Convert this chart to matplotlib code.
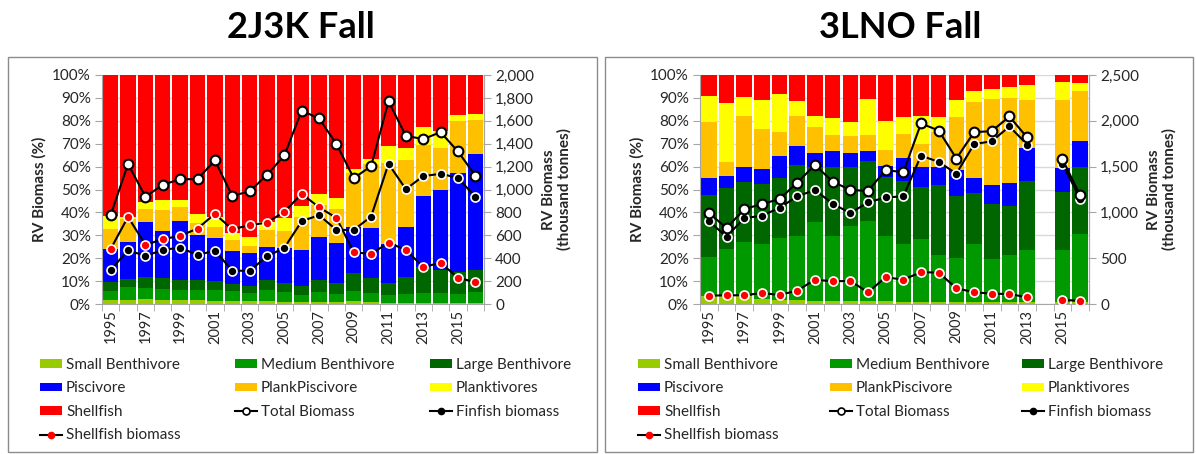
import numpy as np
import matplotlib
matplotlib.use("Agg")
import matplotlib.pyplot as plt
from matplotlib.patches import Rectangle, Patch
from matplotlib.lines import Line2D
from matplotlib.ticker import FuncFormatter, MultipleLocator

plt.rcParams['font.family'] = ['Lato', 'DejaVu Sans']

years = list(range(1995, 2017))
groups = ["Small Benthivore", "Medium Benthivore", "Large Benthivore",
          "Piscivore", "PlankPiscivore", "Planktivores", "Shellfish"]
colors = ["#99cc00", "#009900", "#006600", "#0000ff", "#ffc000", "#ffff00", "#ff0000"]

# ---- 2J3K Fall: composition (%) ----
j_small = [1.9, 1.9, 2.2, 1.8, 1.6, 1.6, 1.5, 1.3, 1.2, 1.2, 1.0, 0.9, 0.8, 0.8, 1.2, 0.8, 0.6, 0.6, 0.6, 0.6, 0.5, 0.6]
j_medium = [3.7, 5.5, 4.8, 4.8, 4.4, 4.7, 4.5, 4.2, 3.8, 4.8, 4.3, 3.1, 4.3, 3.6, 4.5, 4.1, 3.2, 3.8, 4.2, 4.2, 3.7, 4.5]
j_large = [3.9, 3.4, 4.8, 4.6, 4.3, 4.1, 4.0, 3.1, 2.9, 4.3, 4.0, 3.8, 5.5, 4.8, 7.7, 6.5, 5.5, 7.3, 11.2, 9.9, 9.7, 9.6]
j_pisc = [14.5, 16.2, 23.8, 20.6, 26.1, 19.6, 19.0, 14.4, 14.5, 14.8, 15.2, 15.6, 18.8, 17.3, 20.4, 21.8, 16.9, 22.1, 31.2, 35.3, 43.1, 50.9]
j_plankpisc = [8.7, 10.0, 6.1, 9.2, 5.9, 5.2, 4.7, 4.8, 3.1, 7.3, 7.3, 14.6, 14.0, 15.0, 23.5, 27.8, 35.2, 29.2, 22.4, 18.1, 22.8, 14.6]
j_plankt = [5.7, 1.2, 2.9, 4.2, 3.0, 4.0, 4.3, 3.0, 3.7, 3.6, 5.9, 4.7, 4.6, 4.9, 1.6, 2.3, 7.8, 5.0, 7.8, 7.5, 2.9, 2.9]
j_shell = [61.6, 61.8, 55.4, 54.8, 54.7, 60.8, 62.0, 69.2, 70.8, 64.0, 62.3, 57.3, 52.0, 53.6, 41.1, 36.7, 30.8, 32.0, 22.6, 24.4, 17.3, 16.9]
# ---- 2J3K Fall: biomass (thousand tonnes) ----
j_total = [776, 1224, 936, 1041, 1090, 1090, 1254, 945, 983, 1128, 1297, 1688, 1621, 1397, 1099, 1204, 1770, 1469, 1440, 1501, 1332, 1122]
j_finfish = [297, 469, 420, 472, 493, 428, 466, 292, 289, 417, 490, 723, 776, 647, 647, 764, 1224, 1003, 1117, 1137, 1102, 936]
j_shellbio = [481, 761, 516, 566, 595, 659, 787, 653, 688, 711, 805, 962, 845, 752, 452, 437, 536, 472, 324, 359, 230, 190]

nan = np.nan
# ---- 3LNO Fall: composition (%) ----
l_small = [3.4, 3.5, 3.4, 2.2, 1.6, 1.6, 1.5, 1.4, 1.4, 1.5, 1.2, 1.0, 1.0, 1.0, 1.0, 1.0, 1.0, 1.0, 1.0, nan, 0.8, 0.8]
l_medium = [17.2, 20.7, 23.8, 23.8, 27.3, 28.2, 34.4, 28.5, 32.6, 34.7, 28.6, 25.4, 27.6, 20.6, 19.3, 25.4, 18.7, 20.3, 22.4, nan, 22.6, 29.6]
l_large = [27.1, 26.6, 25.9, 26.3, 26.0, 31.1, 24.1, 30.1, 26.0, 26.4, 25.5, 27.4, 22.5, 30.4, 26.9, 22.2, 23.8, 21.7, 30.5, nan, 25.7, 29.6]
l_pisc = [7.2, 5.3, 6.9, 6.7, 9.6, 8.3, 5.8, 6.9, 5.8, 4.3, 4.8, 9.8, 8.6, 8.0, 11.3, 6.6, 8.5, 9.7, 14.4, nan, 10.2, 11.2]
l_plankpisc = [24.5, 6.1, 22.2, 17.5, 10.5, 12.7, 11.7, 7.0, 7.6, 6.7, 7.1, 10.6, 10.2, 15.3, 23.0, 33.0, 37.6, 37.2, 20.9, nan, 30.0, 21.8]
l_plankt = [11.4, 25.7, 8.3, 12.5, 16.7, 6.9, 4.8, 7.4, 6.0, 15.9, 12.5, 7.3, 12.3, 6.2, 7.7, 4.9, 4.4, 4.7, 6.6, nan, 7.6, 3.6]
l_shell = [9.2, 12.1, 9.5, 11.0, 8.3, 11.2, 17.7, 18.7, 20.6, 10.5, 20.3, 18.5, 17.8, 18.5, 10.8, 6.9, 6.0, 5.4, 4.2, nan, 3.1, 3.4]
# ---- 3LNO Fall: biomass (thousand tonnes) ----
l_total = [996, 828, 1036, 1091, 1146, 1325, 1518, 1336, 1245, 1234, 1463, 1438, 1971, 1894, 1588, 1876, 1887, 2047, 1818, nan, 1580, 1186]
l_finfish = [905, 734, 938, 963, 1051, 1175, 1245, 1095, 993, 1109, 1164, 1175, 1620, 1551, 1423, 1745, 1777, 1938, 1741, nan, 1533, 1146]
l_shellbio = [91, 95, 95, 120, 99, 146, 266, 248, 252, 128, 292, 266, 347, 343, 172, 128, 113, 109, 73, nan, 44, 36]

W, H = 1196, 454
fig = plt.figure(figsize=(W / 100, H / 100), dpi=100)


def fx(px):
    return px / W


def fy(py):
    return 1 - py / H


TXT = "#262626"
GRID = "#d9d9d9"
SPINE = "#a6a6a6"


def panel(x0, x1, comp, totals, finfish, shellbio, rmax, rstep, title, box, title_x, leg_cols):
    ax = fig.add_axes([fx(x0), fy(304), fx(x1 - x0), fy(75) - fy(304)])
    x = np.arange(len(years))
    bottom = np.zeros(len(years))
    for vals, c in zip(comp, colors):
        v = np.nan_to_num(np.array(vals, dtype=float))
        ax.bar(x, v, width=0.88, bottom=bottom, color=c, edgecolor='none', zorder=2)
        bottom += v
    ax.set_xlim(-0.5, len(years) - 0.5)
    ax.set_ylim(0, 100)
    ax.yaxis.set_major_locator(MultipleLocator(10))
    ax.yaxis.set_major_formatter(FuncFormatter(lambda v, p: f"{v:.0f}%"))
    ax.grid(axis='y', color=GRID, linewidth=1, zorder=0)
    ax.set_axisbelow(True)
    ax.set_xticks(x[::2])
    ax.set_xticklabels([str(y) for y in years[::2]], rotation=90)
    ax.set_xticks(np.arange(-0.5, len(years), 1.0), minor=True)
    ax.tick_params(axis='x', which='major', length=0, pad=4, labelsize=10.5, colors=TXT)
    ax.tick_params(axis='x', which='minor', length=5, color=SPINE)
    ax.tick_params(axis='y', length=5, color=SPINE, labelsize=11, colors=TXT, pad=3)
    ax.spines['top'].set_visible(False)
    for s in ['left', 'bottom', 'right']:
        ax.spines[s].set_color(SPINE)
    ax.set_ylabel("RV Biomass (%)", fontweight='bold', fontsize=11, color=TXT, labelpad=4)

    ax2 = ax.twinx()
    ax2.set_ylim(0, rmax)
    ax2.yaxis.set_major_locator(MultipleLocator(rstep))
    ax2.yaxis.set_major_formatter(FuncFormatter(lambda v, p: f"{v:,.0f}"))
    ax2.tick_params(axis='y', length=5, color=SPINE, labelsize=11, colors=TXT, pad=3)
    for s in ['top', 'left', 'bottom']:
        ax2.spines[s].set_visible(False)
    ax2.spines['right'].set_color(SPINE)
    ax2.set_ylabel("RV Biomass\n(thousand tonnes)", fontweight='bold', fontsize=11,
                   color=TXT, labelpad=6, linespacing=1.1)
    ax2.plot(x, shellbio, color='black', lw=1.5, marker='o', ms=6.5, mfc='#ff0000',
             mec='white', mew=1.2, zorder=3)
    ax2.plot(x, finfish, color='black', lw=1.5, marker='o', ms=6.5, mfc='black',
             mec='white', mew=1.2, zorder=3)
    ax2.plot(x, totals, color='black', lw=1.5, marker='o', ms=7, mfc='white',
             mec='black', mew=1.5, zorder=4)

    fig.text(fx(title_x), fy(28), title, ha='center', va='center', fontsize=26,
             fontweight='bold', color='black')
    bx0, by0, bx1, by1 = box
    fig.patches.append(Rectangle((fx(bx0), fy(by1)), fx(bx1 - bx0), fy(by0) - fy(by1),
                                 transform=fig.transFigure, fill=False,
                                 edgecolor='#8c8c8c', linewidth=1))

    patches = [Patch(facecolor=c, edgecolor='none') for c in colors]
    tot_h = Line2D([], [], color='black', lw=1.5, marker='o', ms=5, mfc='white', mec='black', mew=1.2)
    fin_h = Line2D([], [], color='black', lw=1.5, marker='o', ms=4.5, mfc='black', mec='black')
    sh_h = Line2D([], [], color='black', lw=1.5, marker='o', ms=4.5, mfc='#ff0000', mec='#ff0000')
    handles_rows = patches + [tot_h, fin_h, sh_h]
    labels_rows = groups + ["Total Biomass", "Finfish biomass", "Shellfish biomass"]
    col_items = [[0, 3, 6, 9], [1, 4, 7], [2, 5, 8]]
    for cx, items in zip(leg_cols, col_items):
        leg = fig.legend([handles_rows[i] for i in items], [labels_rows[i] for i in items],
                         ncol=1, loc='upper left', bbox_to_anchor=(fx(cx), fy(358)),
                         frameon=False, fontsize=11, handlelength=1.45, handleheight=0.45,
                         handletextpad=0.25, labelspacing=0.62, borderaxespad=0,
                         borderpad=0)
        for t in leg.get_texts():
            t.set_color(TXT)
    return ax, ax2


panel(102, 484,
      [j_small, j_medium, j_large, j_pisc, j_plankpisc, j_plankt, j_shell],
      j_total, j_finfish, j_shellbio, 2000, 200, "2J3K Fall", (8, 57, 597, 452), 301,
      (40, 235, 430))
panel(700, 1089,
      [l_small, l_medium, l_large, l_pisc, l_plankpisc, l_plankt, l_shell],
      l_total, l_finfish, l_shellbio, 2500, 500, "3LNO Fall", (605, 57, 1193, 452), 900,
      (638, 830, 1022))

fig.savefig("out.png", dpi=100)
